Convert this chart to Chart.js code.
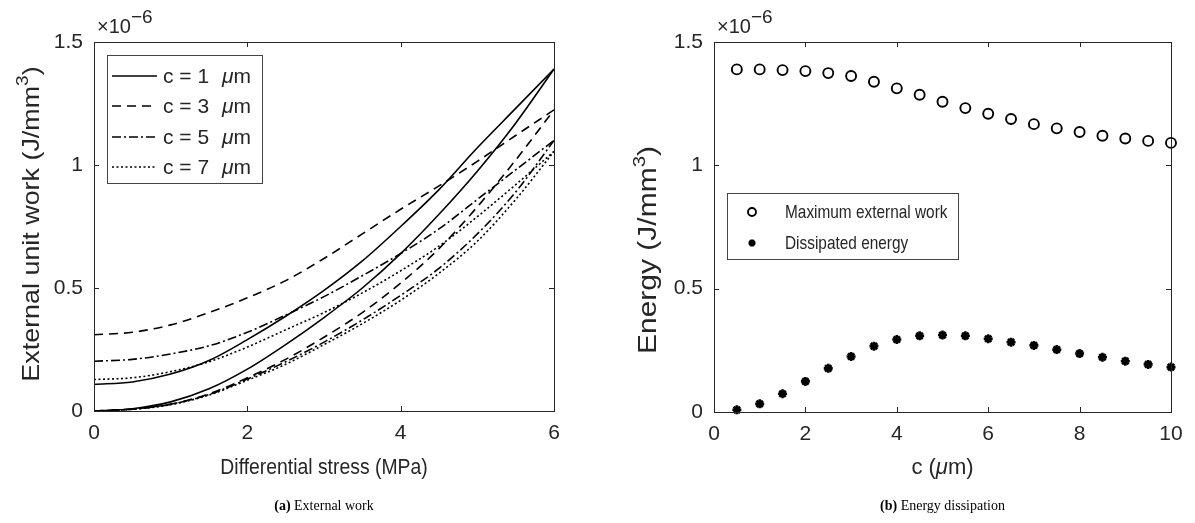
<!DOCTYPE html>
<html><head><meta charset="utf-8">
<script src="https://cdn.jsdelivr.net/npm/chart.js@4.4.1/dist/chart.umd.min.js"></script>
<style>
html,body{margin:0;padding:0;background:#fff;width:1195px;height:523px;overflow:hidden}
canvas{position:absolute;top:0}
#c1{left:0}
#c2{left:597px}
</style></head><body>
<canvas id="c1" width="597" height="523"></canvas>
<canvas id="c2" width="598" height="523"></canvas>
<script>
// ---- data (values in units of 1e-6 J/mm^3) ----
const stress = [0,0.5,1,1.5,2,2.5,3,3.5,4,4.5,5,5.5,6];
const c1Loading   = [0,0.009,0.037,0.09,0.17,0.27,0.38,0.50,0.64,0.80,0.975,1.17,1.39];
const c1Unloading = [0.108,0.118,0.15,0.205,0.29,0.385,0.49,0.61,0.75,0.90,1.07,1.23,1.39];
const c3Loading   = [0,0.008,0.028,0.07,0.135,0.21,0.30,0.40,0.52,0.66,0.83,1.02,1.224];
const c3Unloading = [0.31,0.32,0.35,0.40,0.46,0.53,0.62,0.72,0.82,0.915,1.015,1.12,1.224];
const c5Loading   = [0,0.007,0.027,0.067,0.13,0.20,0.28,0.37,0.47,0.58,0.72,0.89,1.10];
const c5Unloading = [0.202,0.21,0.232,0.265,0.32,0.39,0.465,0.55,0.64,0.74,0.86,0.98,1.10];
const c7Loading   = [0,0.007,0.026,0.065,0.125,0.19,0.27,0.355,0.45,0.56,0.69,0.86,1.055];
const c7Unloading = [0.128,0.135,0.16,0.20,0.26,0.33,0.40,0.48,0.57,0.67,0.79,0.92,1.055];
const seriesLabels = ['1','3','5','7'];
const stressTicks = [0,2,4,6];
const workTicks = [0,0.5,1,1.5];

const cValues = [0.5,1,1.5,2,2.5,3,3.5,4,4.5,5,5.5,6,6.5,7,7.5,8,8.5,9,9.5,10];
const maxExternalWork = [1.389,1.389,1.386,1.382,1.374,1.362,1.339,1.312,1.286,1.258,1.232,1.209,1.188,1.167,1.150,1.135,1.120,1.109,1.099,1.091];
const dissipatedEnergy = [0.009,0.033,0.074,0.124,0.177,0.225,0.267,0.294,0.309,0.312,0.309,0.297,0.283,0.270,0.253,0.237,0.222,0.206,0.193,0.182];
const cTicks = [0,2,4,6,8,10];
const energyTicks = [0,0.5,1,1.5];

// ---- styling ----
const SANS = '"Liberation Sans", Arial, Helvetica, sans-serif';
const SERIF = '"Liberation Serif", "Times New Roman", serif';
const TXT = '#262626';
const TICK = 21, LAB = 22, YLAB = 24, LEG = 21;
const f = (size, style='') => `${style} ${size}px ${SANS}`.trim();

function pts(xs, ys){ return xs.map((x,i)=>({x, y: ys[i]})); }
// draw a run of text pieces; sx stretches along the writing direction; a piece may carry an absolute x (ax)
function drawRich(ctx, parts, x, y, align, sx=1){
  let w = 0;
  for (const p of parts){ ctx.font = p.font; w += ctx.measureText(p.t).width; }
  let cx = align==='center' ? -w/2 : align==='right' ? -w : 0;
  ctx.save(); ctx.translate(x, y); ctx.scale(sx, 1);
  ctx.textAlign = 'left';
  for (const p of parts){
    ctx.font = p.font;
    if (p.ax !== undefined) cx = (p.ax - x) / sx;
    ctx.fillText(p.t, cx, (p.dy||0)); cx += ctx.measureText(p.t).width;
  }
  ctx.restore();
}

const decor = {
  id: 'decor',
  afterDraw(chart, args, o){
    const ctx = chart.ctx, a = chart.chartArea, xs = chart.scales.x, ys = chart.scales.y;
    ctx.save();
    ctx.strokeStyle = TXT; ctx.lineWidth = 1; ctx.setLineDash([]);
    ctx.beginPath();
    for (const t of xs.ticks){ const p = Math.round(xs.getPixelForValue(t.value))+0.5;
      ctx.moveTo(p, a.bottom); ctx.lineTo(p, a.bottom-5); ctx.moveTo(p, a.top); ctx.lineTo(p, a.top+5); }
    for (const t of ys.ticks){ const p = Math.round(ys.getPixelForValue(t.value))+0.5;
      ctx.moveTo(a.left, p); ctx.lineTo(a.left+5, p); ctx.moveTo(a.right, p); ctx.lineTo(a.right-5, p); }
    ctx.stroke();
    ctx.strokeRect(Math.round(a.left)+0.5, Math.round(a.top)+0.5, Math.round(a.right-a.left), Math.round(a.bottom-a.top));

    ctx.fillStyle = TXT; ctx.textBaseline = 'alphabetic';
    // multiplier
    drawRich(ctx, [{t:'\u00d710', font:f(20)}, {t:'\u22126', font:f(19), dy:-10}], a.left+3, a.top-9, 'left');
    // x title
    drawRich(ctx, o.xTitle, (a.left+a.right)/2, o.xTitleY, 'center', o.xTitleSx || 1);
    // y title
    ctx.save(); ctx.translate(o.yTitleX, o.yTitleY); ctx.rotate(-Math.PI/2);
    drawRich(ctx, o.yTitle, 0, 0, 'center', o.yTitleSx || 1); ctx.restore();
    // caption
    ctx.fillStyle = '#000';
    drawRich(ctx, o.caption, (a.left+a.right)/2, 510, 'center');
    // legend
    const L = o.legend;
    ctx.fillStyle = '#fff'; ctx.fillRect(L.x, L.y, L.w, L.h);
    ctx.strokeStyle = '#444'; ctx.lineWidth = 1;
    ctx.strokeRect(L.x+0.5, L.y+0.5, L.w, L.h);
    L.rows.forEach((r, i) => {
      const ds = chart.data.datasets[r.ds];
      const y = L.rowY[i];
      ctx.strokeStyle = '#000'; ctx.fillStyle = '#000';
      ctx.lineWidth = ds.borderWidth;
      if (L.type === 'line'){
        ctx.setLineDash(ds.borderDash || []);
        ctx.beginPath(); ctx.moveTo(L.sx0, y); ctx.lineTo(L.sx1, y); ctx.stroke(); ctx.setLineDash([]);
      } else if (ds.pointStyle === 'circle'){
        ctx.beginPath(); ctx.arc(L.mx, y, r.r, 0, Math.PI*2); ctx.stroke();
      } else {
        Chart.helpers.drawPoint(ctx, {pointStyle: ds.pointStyle, radius: r.r, borderWidth: ds.borderWidth, rotation: 0}, L.mx, y);
      }
      ctx.fillStyle = TXT; ctx.textBaseline = 'middle';
      drawRich(ctx, r.text, L.tx, y+1, 'left', L.textSx || 1);
      ctx.textBaseline = 'alphabetic';
    });
    ctx.restore();
  }
};

function fixedTicks(arr){ return s => { s.ticks = arr.map(v => ({value: v})); }; }
function baseScales(xr, yr, xTicks, yTicks, yWidth, xHeight){
  const fmt = v => String(v);
  return {
    x: { type:'linear', min:xr[0], max:xr[1], afterBuildTicks: fixedTicks(xTicks),
         grid:{display:false, drawTicks:false}, border:{display:false},
         ticks:{font:{family:SANS, size:TICK}, color:TXT, padding:10, maxRotation:0, autoSkip:false, callback: fmt},
         afterFit: s => { s.height = xHeight; } },
    y: { type:'linear', min:yr[0], max:yr[1], afterBuildTicks: fixedTicks(yTicks),
         grid:{display:false, drawTicks:false}, border:{display:false},
         ticks:{font:{family:SANS, size:TICK}, color:TXT, padding:11, callback: fmt},
         afterFit: s => { s.width = yWidth; } }
  };
}

// ---- left chart ----
const dashes = [[], [9,6], [9,3,2,3], [2,2.5]];
const loading = [c1Loading, c3Loading, c5Loading, c7Loading];
const unloading = [c1Unloading, c3Unloading, c5Unloading, c7Unloading];
const leftSets = [];
seriesLabels.forEach((lab, i) => {
  const common = { borderColor:'#000', borderWidth:1.6, borderDash:dashes[i], pointRadius:0,
                   fill:false, cubicInterpolationMode:'monotone' };
  leftSets.push(Object.assign({ label:'c = '+lab+' \u03bcm', data: pts(stress, loading[i]) }, common));
  leftSets.push(Object.assign({ label:'c = '+lab+' \u03bcm (unloading)', data: pts(stress, unloading[i]) }, common));
});
const muText = (pre, post) => [{t:pre, font:f(LEG)}, {t:'\u03bc', font:f(LEG,'italic'), ax:222}, {t:post, font:f(LEG)}];
new Chart(document.getElementById('c1'), {
  type:'line',
  data:{ datasets: leftSets },
  options:{
    responsive:false, animation:false, devicePixelRatio:1, events:[],
    layout:{ padding:{ top:42, right:43, bottom:0, left:0 } },
    scales: baseScales([0,6],[0,1.5], stressTicks, workTicks, 94, 112),
    plugins:{ legend:{display:false}, tooltip:{enabled:false},
      decor:{
        xTitle:[{t:'Differential stress (MPa)', font:f(LAB)}], xTitleY:474, xTitleSx:0.88,
        yTitleX:39, yTitleY:224, yTitleSx:1.12,
        yTitle:[{t:'External unit work (J/mm', font:f(YLAB)}, {t:'3', font:f(17), dy:-11}, {t:')', font:f(YLAB)}],
        caption:[{t:'(a)', font:`bold 14px ${SERIF}`}, {t:' External work', font:`14px ${SERIF}`}],
        legend:{ type:'line', x:107, y:55, w:155, h:128, rowY:[76,106,137,167], sx0:112, sx1:157, tx:163,
          rows: seriesLabels.map((lab,i) => ({ ds: i*2, text: muText('c = '+lab, 'm') })) }
      } }
  },
  plugins:[decor]
});

// ---- right chart ----
new Chart(document.getElementById('c2'), {
  type:'scatter',
  data:{ datasets:[
    { label:'Maximum external work', data: pts(cValues, maxExternalWork), pointStyle:'circle', pointRadius:5,
      borderWidth:1.9, borderColor:'#000', backgroundColor:'rgba(0,0,0,0)', showLine:false, clip:false },
    { label:'Dissipated energy', data: pts(cValues, dissipatedEnergy), pointStyle:'star', pointRadius:4.5,
      borderWidth:2.6, borderColor:'#000', backgroundColor:'#000', showLine:false, clip:false }
  ]},
  options:{
    responsive:false, animation:false, devicePixelRatio:1, events:[],
    layout:{ padding:{ top:42, right:24, bottom:0, left:0 } },
    scales: baseScales([0,10],[0,1.5], cTicks, energyTicks, 117, 111),
    plugins:{ legend:{display:false}, tooltip:{enabled:false},
      decor:{
        xTitle:[{t:'c (', font:f(LAB)}, {t:'\u03bc', font:f(LAB,'italic')}, {t:'m)', font:f(LAB)}], xTitleY:474,
        yTitleX:59, yTitleY:250, yTitleSx:1.2,
        yTitle:[{t:'Energy (J/mm', font:f(25)}, {t:'3', font:f(17), dy:-11}, {t:')', font:f(25)}],
        caption:[{t:'(b)', font:`bold 14px ${SERIF}`}, {t:' Energy dissipation', font:`14px ${SERIF}`}],
        legend:{ type:'point', x:130, y:193, w:231, h:66, rowY:[212,243], mx:155, tx:188, textSx:0.81,
          rows:[ { ds:0, r:4, text:[{t:'Maximum external work', font:f(19)}] },
                 { ds:1, r:3.5, text:[{t:'Dissipated energy', font:f(19)}] } ] }
      } }
  },
  plugins:[decor]
});
</script>
</body></html>
